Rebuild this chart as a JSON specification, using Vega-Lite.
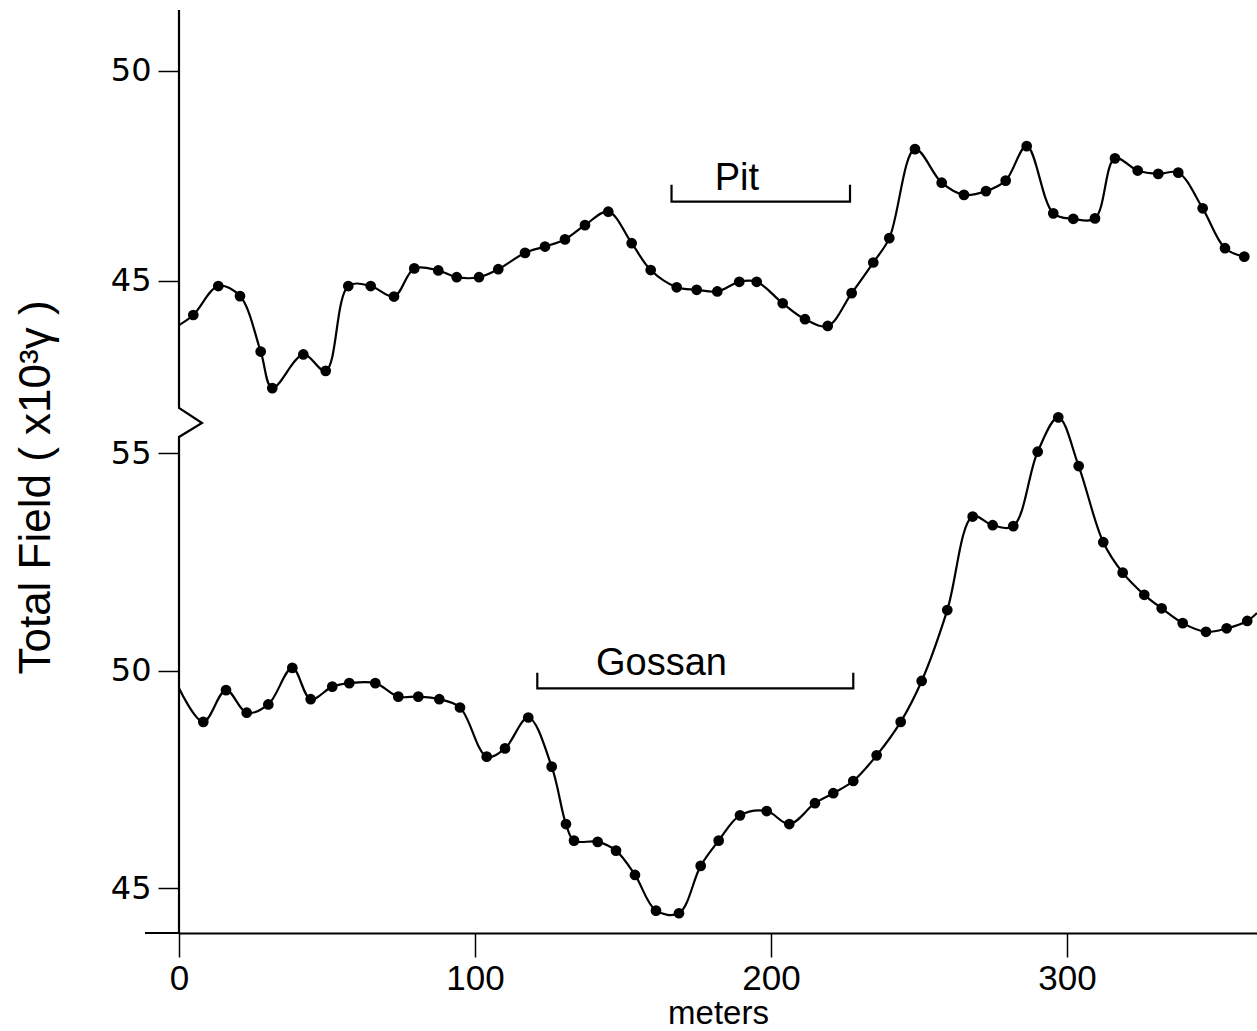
{
  "$schema": "https://vega.github.io/schema/vega-lite/v6.json",
  "width": 1078,
  "height": 923,
  "autosize": {"type": "none"},
  "padding": {"left": 179, "top": 10, "right": 0, "bottom": 98},
  "background": "white",
  "config": {
    "view": {"stroke": null},
    "axis": {"grid": false, "domainColor": "black", "tickColor": "black", "labelColor": "black", "titleColor": "black", "titleFontWeight": "normal"}
  },
  "datasets": {
    "up": [
      {"m": 0, "v": 43.95, "p": 0},
      {"m": 4.83, "v": 44.19, "p": 1},
      {"m": 13.28, "v": 44.88, "p": 1},
      {"m": 20.61, "v": 44.64, "p": 1},
      {"m": 27.6, "v": 43.32, "p": 1},
      {"m": 31.52, "v": 42.45, "p": 1},
      {"m": 42.0, "v": 43.25, "p": 1},
      {"m": 49.56, "v": 42.86, "p": 1},
      {"m": 57.2, "v": 44.88, "p": 1},
      {"m": 64.76, "v": 44.88, "p": 1},
      {"m": 72.64, "v": 44.63, "p": 1},
      {"m": 79.49, "v": 45.30, "p": 1},
      {"m": 87.6, "v": 45.25, "p": 1},
      {"m": 93.82, "v": 45.09, "p": 1},
      {"m": 101.35, "v": 45.09, "p": 1},
      {"m": 107.87, "v": 45.28, "p": 1},
      {"m": 116.9, "v": 45.67, "p": 1},
      {"m": 123.65, "v": 45.82, "p": 1},
      {"m": 130.4, "v": 45.99, "p": 1},
      {"m": 137.16, "v": 46.33, "p": 1},
      {"m": 145.03, "v": 46.65, "p": 1},
      {"m": 152.94, "v": 45.90, "p": 1},
      {"m": 159.36, "v": 45.26, "p": 1},
      {"m": 168.14, "v": 44.85, "p": 1},
      {"m": 174.9, "v": 44.79, "p": 1},
      {"m": 181.86, "v": 44.75, "p": 1},
      {"m": 189.29, "v": 44.98, "p": 1},
      {"m": 195.17, "v": 44.98, "p": 1},
      {"m": 203.95, "v": 44.47, "p": 1},
      {"m": 211.49, "v": 44.09, "p": 1},
      {"m": 219.16, "v": 43.93, "p": 1},
      {"m": 227.26, "v": 44.71, "p": 1},
      {"m": 234.56, "v": 45.44, "p": 1},
      {"m": 239.97, "v": 46.02, "p": 1},
      {"m": 248.65, "v": 48.14, "p": 1},
      {"m": 257.67, "v": 47.34, "p": 1},
      {"m": 265.2, "v": 47.05, "p": 1},
      {"m": 272.64, "v": 47.14, "p": 1},
      {"m": 279.29, "v": 47.39, "p": 1},
      {"m": 286.39, "v": 48.21, "p": 1},
      {"m": 295.37, "v": 46.61, "p": 1},
      {"m": 302.13, "v": 46.48, "p": 1},
      {"m": 309.46, "v": 46.49, "p": 1},
      {"m": 316.22, "v": 47.92, "p": 1},
      {"m": 323.89, "v": 47.63, "p": 1},
      {"m": 330.84, "v": 47.55, "p": 1},
      {"m": 337.6, "v": 47.58, "p": 1},
      {"m": 345.84, "v": 46.73, "p": 1},
      {"m": 353.38, "v": 45.78, "p": 1},
      {"m": 359.9, "v": 45.58, "p": 1}
    ],
    "lo": [
      {"m": 0, "v": 49.59, "p": 0},
      {"m": 8.21, "v": 48.82, "p": 1},
      {"m": 15.88, "v": 49.55, "p": 1},
      {"m": 22.87, "v": 49.03, "p": 1},
      {"m": 30.17, "v": 49.22, "p": 1},
      {"m": 38.28, "v": 50.06, "p": 1},
      {"m": 44.49, "v": 49.34, "p": 1},
      {"m": 51.79, "v": 49.63, "p": 1},
      {"m": 57.53, "v": 49.71, "p": 1},
      {"m": 66.32, "v": 49.71, "p": 1},
      {"m": 74.09, "v": 49.40, "p": 1},
      {"m": 80.84, "v": 49.40, "p": 1},
      {"m": 87.94, "v": 49.34, "p": 1},
      {"m": 94.93, "v": 49.15, "p": 1},
      {"m": 103.95, "v": 48.02, "p": 1},
      {"m": 110.14, "v": 48.21, "p": 1},
      {"m": 118.0, "v": 48.92, "p": 1},
      {"m": 125.91, "v": 47.79, "p": 1},
      {"m": 130.74, "v": 46.47, "p": 1},
      {"m": 133.45, "v": 46.09, "p": 1},
      {"m": 141.45, "v": 46.06, "p": 1},
      {"m": 147.64, "v": 45.86, "p": 1},
      {"m": 154.05, "v": 45.30, "p": 1},
      {"m": 161.15, "v": 44.48, "p": 1},
      {"m": 168.92, "v": 44.42, "p": 1},
      {"m": 176.25, "v": 45.51, "p": 1},
      {"m": 182.33, "v": 46.09, "p": 1},
      {"m": 189.53, "v": 46.67, "p": 1},
      {"m": 198.55, "v": 46.77, "p": 1},
      {"m": 206.18, "v": 46.47, "p": 1},
      {"m": 214.86, "v": 46.95, "p": 1},
      {"m": 221.05, "v": 47.18, "p": 1},
      {"m": 227.8, "v": 47.46, "p": 1},
      {"m": 235.7, "v": 48.05, "p": 1},
      {"m": 243.82, "v": 48.82, "p": 1},
      {"m": 250.91, "v": 49.76, "p": 1},
      {"m": 259.56, "v": 51.39, "p": 1},
      {"m": 268.14, "v": 53.54, "p": 1},
      {"m": 274.9, "v": 53.34, "p": 1},
      {"m": 281.86, "v": 53.32, "p": 1},
      {"m": 290.1, "v": 55.03, "p": 1},
      {"m": 297.06, "v": 55.82, "p": 1},
      {"m": 303.95, "v": 54.70, "p": 1},
      {"m": 312.26, "v": 52.95, "p": 1},
      {"m": 318.82, "v": 52.25, "p": 1},
      {"m": 326.11, "v": 51.74, "p": 1},
      {"m": 331.99, "v": 51.43, "p": 1},
      {"m": 339.09, "v": 51.09, "p": 1},
      {"m": 346.96, "v": 50.89, "p": 1},
      {"m": 353.95, "v": 50.97, "p": 1},
      {"m": 360.9, "v": 51.14, "p": 1},
      {"m": 364.2, "v": 51.32, "p": 0}
    ],
    "axisline": [
      {"i": 0, "m": 0, "v": 51.452},
      {"i": 1, "m": 0, "v": 41.976},
      {"i": 2, "m": 7.77, "v": 41.619},
      {"i": 3, "m": 0, "v": 41.286},
      {"i": 4, "m": 0, "v": 29.476},
      {"i": 5, "m": -11.5, "v": 29.476}
    ],
    "pit": [
      {"i": 0, "m": 166.4, "v": 47.29},
      {"i": 1, "m": 166.4, "v": 46.89},
      {"i": 2, "m": 226.7, "v": 46.89},
      {"i": 3, "m": 226.7, "v": 47.29}
    ],
    "gossan": [
      {"i": 0, "m": 121.05, "v": 49.95},
      {"i": 1, "m": 121.05, "v": 49.59},
      {"i": 2, "m": 227.8, "v": 49.59},
      {"i": 3, "m": 227.8, "v": 49.95}
    ],
    "labup": [{"m": 188.5, "v": 47.17, "t": "Pit"}],
    "lablo": [{"m": 163.0, "v": 49.90, "t": "Gossan"}]
  },
  "encoding": {
    "x": {
      "field": "m",
      "type": "quantitative",
      "scale": {"domain": [0, 364.2], "nice": false, "zero": false},
      "axis": {
        "values": [0, 100, 200, 300],
        "format": "d",
        "labelFlush": false,
        "labelOverlap": false,
        "domainWidth": 2,
        "tickWidth": 1.5,
        "tickSize": 24,
        "labelFont": "Liberation Sans",
        "labelFontSize": 35,
        "labelPadding": 4,
        "title": "meters",
        "titleFont": "Liberation Sans",
        "titleFontSize": 33,
        "titlePadding": 1
      }
    }
  },
  "layer": [
    {
      "encoding": {
        "y": {
          "field": "v",
          "type": "quantitative",
          "scale": {"domain": [29.476, 51.452], "nice": false, "zero": false},
          "axis": {
            "orient": "left",
            "values": [45, 50],
            "domain": false,
            "tickSize": 21,
            "tickWidth": 1.5,
            "labelFont": "DejaVu Sans",
            "labelFontSize": 32,
            "labelPadding": 7,
            "title": "Total Field ( x10³γ )",
            "titleFont": "Liberation Sans",
            "titleFontSize": 44,
            "titleAngle": -90,
            "titleBaseline": "alphabetic",
            "titleAlign": "center",
            "titleX": -130,
            "titleY": 477
          }
        }
      },
      "layer": [
        {
          "data": {"name": "axisline"},
          "mark": {"type": "line", "color": "black", "strokeWidth": 2.2, "clip": false},
          "encoding": {"order": {"field": "i", "type": "quantitative"}}
        },
        {
          "data": {"name": "up"},
          "mark": {"type": "line", "color": "black", "strokeWidth": 2.2, "interpolate": "catmull-rom"}
        },
        {
          "data": {"name": "up"},
          "transform": [{"filter": "datum.p == 1"}],
          "mark": {"type": "circle", "color": "black", "opacity": 1, "size": 115}
        },
        {
          "data": {"name": "pit"},
          "mark": {"type": "line", "color": "black", "strokeWidth": 2.2},
          "encoding": {"order": {"field": "i", "type": "quantitative"}}
        },
        {
          "data": {"name": "labup"},
          "mark": {"type": "text", "font": "Liberation Sans", "fontSize": 38, "align": "center", "baseline": "alphabetic", "color": "black"},
          "encoding": {"text": {"field": "t"}}
        }
      ]
    },
    {
      "encoding": {
        "y": {
          "field": "v",
          "type": "quantitative",
          "scale": {"domain": [43.966, 65.184], "nice": false, "zero": false},
          "axis": {
            "orient": "left",
            "values": [45, 50, 55],
            "domain": false,
            "tickSize": 21,
            "tickWidth": 1.5,
            "labelFont": "DejaVu Sans",
            "labelFontSize": 32,
            "labelPadding": 7,
            "title": null
          }
        }
      },
      "layer": [
        {
          "data": {"name": "lo"},
          "mark": {"type": "line", "color": "black", "strokeWidth": 2.2, "interpolate": "catmull-rom"}
        },
        {
          "data": {"name": "lo"},
          "transform": [{"filter": "datum.p == 1"}],
          "mark": {"type": "circle", "color": "black", "opacity": 1, "size": 115}
        },
        {
          "data": {"name": "gossan"},
          "mark": {"type": "line", "color": "black", "strokeWidth": 2.2},
          "encoding": {"order": {"field": "i", "type": "quantitative"}}
        },
        {
          "data": {"name": "lablo"},
          "mark": {"type": "text", "font": "Liberation Sans", "fontSize": 38, "align": "center", "baseline": "alphabetic", "color": "black"},
          "encoding": {"text": {"field": "t"}}
        }
      ]
    }
  ],
  "resolve": {"scale": {"y": "independent"}, "axis": {"y": "independent"}}
}
